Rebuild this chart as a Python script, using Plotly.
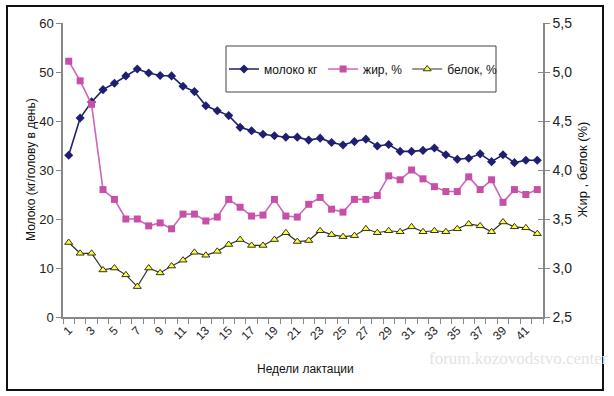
import plotly.graph_objects as go

weeks = list(range(1, 43))
milk = [33.0, 40.6, 43.9, 46.4, 47.7, 49.2, 50.6, 49.8, 49.3, 49.2,
        47.1, 46.0, 43.1, 42.1, 41.1, 38.7, 38.0, 37.3, 37.0, 36.7,
        36.7, 36.1, 36.5, 35.6, 35.1, 35.8, 36.3, 34.9, 35.2, 33.8,
        33.8, 34.0, 34.5, 33.1, 32.2, 32.4, 33.3, 31.7, 33.1, 31.5,
        32.0, 32.0]
fat = [5.11, 4.91, 4.67, 3.80, 3.70, 3.50, 3.50, 3.43, 3.46, 3.40,
       3.55, 3.55, 3.48, 3.52, 3.70, 3.62, 3.53, 3.54, 3.70, 3.53,
       3.52, 3.65, 3.72, 3.60, 3.57, 3.70, 3.70, 3.74, 3.94, 3.90,
       4.00, 3.91, 3.83, 3.78, 3.78, 3.93, 3.80, 3.90, 3.67, 3.80,
       3.75, 3.80]
protein = [3.26, 3.15, 3.15, 2.98, 3.00, 2.93, 2.81, 3.00, 2.95, 3.02,
           3.08, 3.16, 3.13, 3.17, 3.24, 3.29, 3.23, 3.23, 3.29, 3.36,
           3.27, 3.28, 3.38, 3.34, 3.32, 3.33, 3.40, 3.36, 3.38, 3.37,
           3.42, 3.37, 3.38, 3.37, 3.40, 3.45, 3.43, 3.37, 3.47, 3.42,
           3.41, 3.35]
x_labels = [str(w) for w in range(1, 42, 2)]
left_ticks = [0, 10, 20, 30, 40, 50, 60]
right_ticks = [2.5, 3.0, 3.5, 4.0, 4.5, 5.0, 5.5]

FONT = "Liberation Sans, Arial, sans-serif"

fig = go.Figure()
fig.add_trace(go.Scatter(
    x=weeks, y=milk, name="молоко кг", mode="lines+markers",
    line=dict(color="#1f1f70", width=1.6),
    marker=dict(symbol="diamond", size=7, color="#1f1f70"),
    yaxis="y"))
fig.add_trace(go.Scatter(
    x=weeks, y=fat, name="жир, %", mode="lines+markers",
    line=dict(color="#cc66bb", width=1.6),
    marker=dict(symbol="square", size=7, color="#c84fa8"),
    yaxis="y2"))
fig.add_trace(go.Scatter(
    x=weeks, y=protein, name="белок, %", mode="lines+markers",
    line=dict(color="#333322", width=1.2),
    marker=dict(symbol="triangle-up", size=7, color="#ffff33",
                line=dict(color="#333322", width=1)),
    yaxis="y2"))
# invisible trace to activate the inner-tick axis
fig.add_trace(go.Scatter(x=[None], y=[None], yaxis="y3", showlegend=False,
                         hoverinfo="skip"))

def px_x(p):
    return (p - 63) / 480.0

def px_y(p):
    return (317 - p) / 294.0

fig.update_layout(
    width=614, height=396,
    margin=dict(l=63, r=71, t=23, b=79, autoexpand=False),
    paper_bgcolor="white", plot_bgcolor="white",
    separators=", ",
    font=dict(family=FONT, color="#222222", size=12),
    showlegend=True,
    legend=dict(orientation="h", x=px_x(224), y=px_y(69), xanchor="left", yanchor="middle",
                bgcolor="rgba(0,0,0,0)", borderwidth=0,
                font=dict(size=12, family=FONT, color="#111111"),
                itemwidth=30, tracegroupgap=0),
    xaxis=dict(range=[0.5, 42.5], tickmode="array", tickvals=list(range(1, 42, 2)),
               ticktext=x_labels, tickangle=-45, ticks="", showgrid=False,
               showline=True, linecolor="#888888", linewidth=1.5,
               tickfont=dict(size=12, family=FONT, color="#222222"),
               minor=dict(ticks="outside", tick0=0.5, dtick=1, ticklen=5,
                          tickcolor="#888888", showgrid=False),
               zeroline=False, automargin=False),
    yaxis=dict(range=[0, 60], tickvals=left_ticks, showgrid=False,
               showline=True, linecolor="#888888", linewidth=1.5,
               ticks="outside", ticklen=5, tickcolor="#888888",
               tickfont=dict(size=13, family=FONT, color="#222222"),
               zeroline=False, automargin=False),
    yaxis2=dict(range=[2.5, 5.5], tickvals=right_ticks, tickformat=".1f",
                overlaying="y", side="right", showgrid=False,
                showline=True, linecolor="#888888", linewidth=1.5,
                ticks="outside", ticklen=5, tickcolor="#888888",
                tickfont=dict(size=14, family=FONT, color="#222222"),
                zeroline=False, automargin=False),
    yaxis3=dict(range=[2.5, 5.5], tickvals=right_ticks, overlaying="y",
                side="right", showticklabels=False, showgrid=False,
                ticks="inside", ticklen=5, tickcolor="#888888",
                showline=False, zeroline=False, automargin=False),
)

# outer frame
fig.add_shape(type="rect", xref="paper", yref="paper",
              x0=px_x(7), x1=px_x(603), y0=px_y(390), y1=px_y(6),
              line=dict(color="#111111", width=2), layer="above")
# legend box
fig.add_shape(type="rect", xref="paper", yref="paper",
              x0=px_x(226), x1=px_x(496), y0=px_y(92), y1=px_y(46),
              line=dict(color="#444444", width=1), fillcolor="rgba(0,0,0,0)")

# axis titles
fig.add_annotation(text="Молоко (кг/голову в день)", xref="paper", yref="paper",
                   x=px_x(22), y=px_y(170), textangle=-90, showarrow=False,
                   font=dict(size=12, family=FONT, color="#111111"))
fig.add_annotation(text="Жир , белок (%)", xref="paper", yref="paper",
                   x=px_x(591), y=px_y(170), textangle=-90, showarrow=False,
                   font=dict(size=13, family=FONT, color="#111111"))
fig.add_annotation(text="Недели лактации", xref="paper", yref="paper",
                   x=px_x(305), y=px_y(378), showarrow=False,
                   font=dict(size=12, family=FONT, color="#111111"))
# watermark
fig.add_annotation(text="forum.kozovodstvo.center", xref="paper", yref="paper",
                   x=px_x(610), y=px_y(370), xanchor="right", showarrow=False,
                   font=dict(size=17, family="Liberation Serif, serif", color="#e4e4e4"))

fig.write_html("out.html", config={"displayModeBar": False},
               post_script="document.body.style.margin='0';document.body.style.overflow='hidden';")
